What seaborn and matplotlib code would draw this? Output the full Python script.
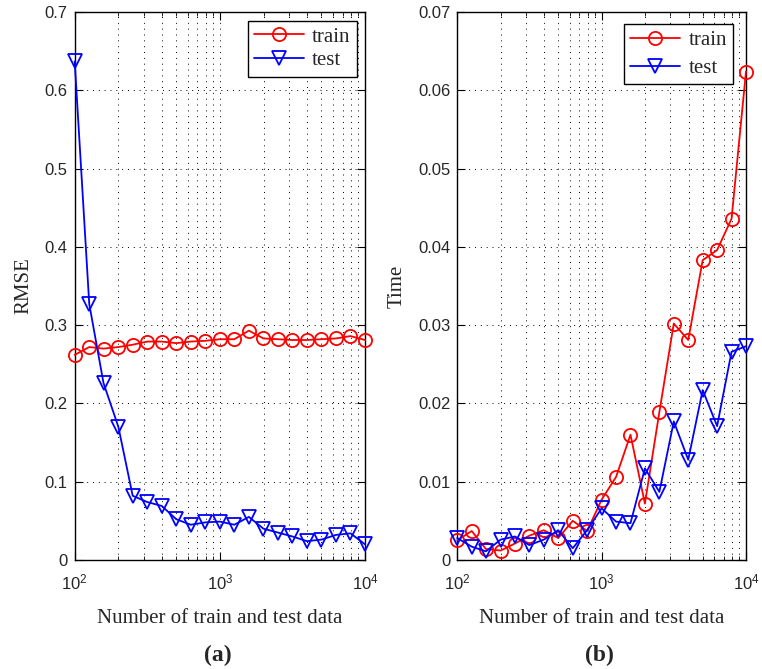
import numpy as np
import pandas as pd
import matplotlib
matplotlib.use("Agg")
import matplotlib.pyplot as plt
import seaborn as sns
from matplotlib.ticker import LogLocator, NullFormatter, MultipleLocator

sns.set_style("ticks")
plt.rcParams['font.family'] = ['Liberation Sans', 'DejaVu Sans']

n_data = [100, 126, 158, 200, 251, 316, 398, 501, 631, 794, 1000,
          1259, 1585, 1995, 2512, 3162, 3981, 5012, 6310, 7943, 10000]

rmse_train = [0.262, 0.272, 0.270, 0.272, 0.275, 0.279, 0.279, 0.277, 0.279, 0.280, 0.282,
              0.282, 0.293, 0.283, 0.282, 0.281, 0.281, 0.282, 0.283, 0.286, 0.281]
rmse_test = [0.637, 0.327, 0.226, 0.170, 0.082, 0.074, 0.069, 0.052, 0.045, 0.048, 0.049,
             0.045, 0.055, 0.040, 0.035, 0.030, 0.024, 0.026, 0.032, 0.034, 0.020]

time_train = [0.0025, 0.0037, 0.0014, 0.0012, 0.0021, 0.0031, 0.0038, 0.0028, 0.0050, 0.0037, 0.0077,
              0.0106, 0.0160, 0.0072, 0.0189, 0.0302, 0.0281, 0.0383, 0.0396, 0.0436, 0.0624]
time_test = [0.0028, 0.0017, 0.0011, 0.0026, 0.0030, 0.0019, 0.0026, 0.0038, 0.0015, 0.0038, 0.0066,
             0.0049, 0.0047, 0.0117, 0.0087, 0.0177, 0.0128, 0.0217, 0.0171, 0.0266, 0.0273]

series_names = ["train", "test"]
colors = {"train": "#ff0000", "test": "#0000ff"}
markers = {"train": "o", "test": "v"}

fig = plt.figure(figsize=(7.62, 6.69), dpi=100)
ax_a = fig.add_axes([0.098, 0.163, 0.381, 0.819])
ax_b = fig.add_axes([0.600, 0.163, 0.379, 0.819])

def draw(ax, train, test, ylabel, ymax, ystep, ndec, legend_anchor, labelspacing):
    df = pd.DataFrame({
        "n": n_data * 2,
        "value": list(train) + list(test),
        "series": ["train"] * len(n_data) + ["test"] * len(n_data),
    })
    for name in series_names:
        sub = df[df["series"] == name]
        sns.lineplot(data=sub, x="n", y="value", ax=ax, color=colors[name],
                     marker=markers[name], markersize=9.5, markerfacecolor="none",
                     markeredgecolor=colors[name], markeredgewidth=1.3,
                     linewidth=1.3, label=name, legend=False, clip_on=False, zorder=5)
    ax.set_xscale("log")
    ax.set_xlim(100, 10000)
    ax.set_ylim(0, ymax)
    ax.yaxis.set_major_locator(MultipleLocator(ystep))
    ax.yaxis.set_major_formatter(plt.FuncFormatter(
        lambda v, p: "0" if abs(v) < 1e-9 else f"{v:.{ndec}f}"))
    ax.xaxis.set_major_locator(LogLocator(base=10, numticks=10))
    ax.xaxis.set_minor_locator(LogLocator(base=10, subs=np.arange(2, 10), numticks=10))
    ax.xaxis.set_minor_formatter(NullFormatter())
    ax.grid(True, which="major", axis="both", linestyle=(0, (1, 5)), color="black", linewidth=0.7)
    ax.grid(True, which="minor", axis="x", linestyle=(0, (1, 5)), color="black", linewidth=0.7)
    ax.tick_params(axis="both", which="both", direction="in", top=True, right=True,
                   labelsize=12, color="black")
    ax.tick_params(axis="x", which="both", pad=9)
    ax.tick_params(axis="y", which="both", pad=5)
    ax.tick_params(which="major", length=6)
    ax.tick_params(which="minor", length=3)
    for s in ax.spines.values():
        s.set_linewidth(1.0)
        s.set_color("black")
    ax.set_xlabel("Number of train and test data", family=["Liberation Serif"], fontsize=15, labelpad=12)
    ax.set_ylabel(ylabel, family=["Liberation Serif"], fontsize=15, labelpad=8)
    leg = ax.legend(loc="upper right", bbox_to_anchor=legend_anchor, frameon=True, fancybox=False,
                    edgecolor="black", framealpha=1, prop={"family": "Liberation Serif", "size": 15},
                    handlelength=2.4, borderpad=0.3, labelspacing=labelspacing, handletextpad=0.4,
                    borderaxespad=0.0)
    leg.get_frame().set_linewidth(1.0)
    leg.set_zorder(10)

draw(ax_a, rmse_train, rmse_test, "RMSE", 0.7, 0.1, 1, (0.972, 0.984), 0.2)
draw(ax_b, time_train, time_test, "Time", 0.07, 0.01, 2, (0.955, 0.978), 0.4)

fig.text(0.286, 0.012, "(a)", family="Liberation Serif", fontsize=17, fontweight="bold", ha="center")
fig.text(0.787, 0.012, "(b)", family="Liberation Serif", fontsize=17, fontweight="bold", ha="center")

fig.savefig("out.png", dpi=100)
